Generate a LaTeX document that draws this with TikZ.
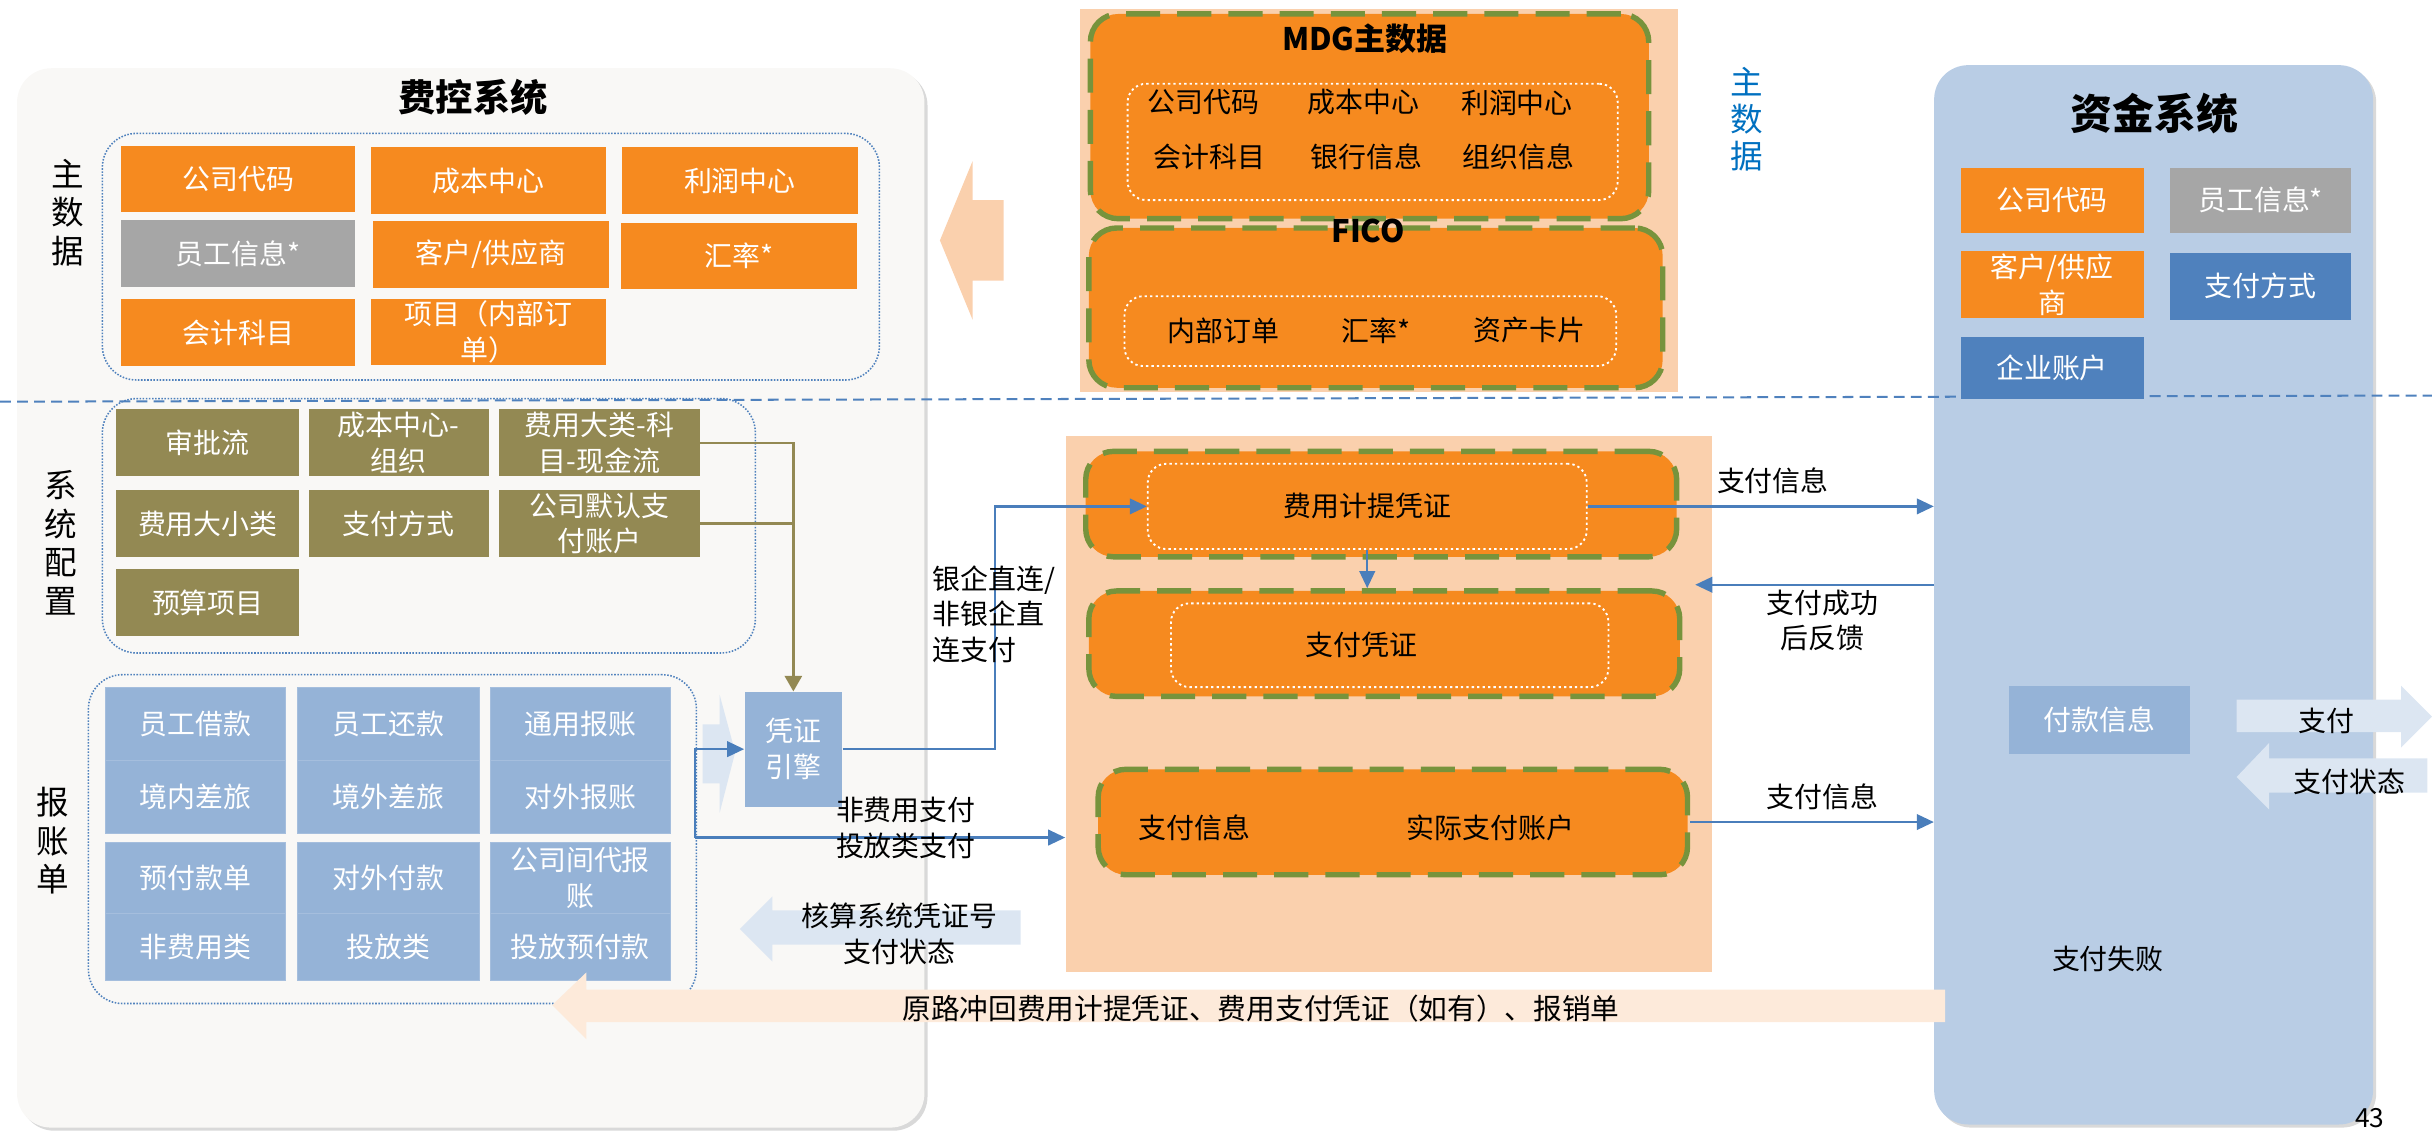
\documentclass[tikz,border=0pt]{standalone}
\usepackage{fontspec}
\setmainfont{Noto Sans CJK SC}
\usetikzlibrary{arrows.meta,shadows}
\definecolor{chengse}{HTML}{F68A1F}
\definecolor{huise}{HTML}{A6A6A6}
\definecolor{ganlan}{HTML}{938953}
\definecolor{qianlan}{HTML}{95B3D7}
\definecolor{shenlan}{HTML}{4F81BD}
\definecolor{zjlan}{HTML}{B9CDE5}
\definecolor{rouse}{HTML}{FAD0AD}
\definecolor{lvse}{HTML}{77933C}
\definecolor{danlan}{HTML}{DCE6F2}
\definecolor{danrou}{HTML}{FDEADA}
\definecolor{xianlan}{HTML}{4A7EBB}
\definecolor{dise}{HTML}{F9F8F6}
\definecolor{zilan}{HTML}{0070C0}

\begin{document}
\begin{tikzpicture}[
        x=1pt,y=-1pt,
        font=\fontsize{18}{23}\selectfont,
        wh/.style 2 args={minimum width=#1pt,minimum height=#2pt},
        cell/.style={inner sep=0pt,align=center,text=white},
        ob/.style={cell,fill=chengse},
        gb/.style={cell,fill=huise},
        olv/.style={cell,fill=ganlan},
        lbc/.style={cell,fill=qianlan,draw=qianlan!85!white,line width=0.4pt},
        db/.style={cell,fill=shenlan},
        panel/.style={inner sep=0pt,rounded corners=22pt,
          drop shadow={shadow xshift=2pt,shadow yshift=-2pt,opacity=0.3}},
        grp/.style={inner sep=0pt,draw=shenlan,densely dotted,line width=1pt,rounded corners=22pt},
        pzbox/.style={inner sep=0pt,fill=chengse,draw=lvse,line width=3.5pt,
          dash pattern=on 22pt off 11pt,rounded corners=18pt},
        inbox/.style={inner sep=0pt,draw=white,line width=1.2pt,
          dash pattern=on 1.5pt off 2pt,rounded corners=12pt},
        vlbl/.style={align=center,font=\fontsize{21}{25}\selectfont},
        title/.style={font=\bfseries\fontsize{#1}{#1}\selectfont},
        barrow/.style={draw=xianlan,line width=1.5pt,-{Triangle[length=11pt,width=10pt]}},
        oline/.style={draw=ganlan,line width=1.6pt}
      ]
      \useasboundingbox (0,0) rectangle (1568,730);

      % panels
      \node[panel,fill=dise,wh={585}{683}] (fkxt) at (303.5,385.5) {};
      \node[panel,fill=zjlan,wh={283}{683}] (zjxt) at (1388.5,383.5) {};
      \node[inner sep=0pt,fill=rouse,wh={386}{247}] (mdgbg) at (889,129.5) {};
      \node[inner sep=0pt,fill=rouse,wh={417}{346}] (fibg) at (895.5,454) {};

      % fee control system
      \node[title=24] (fktitle) at (305,62.5) {费控系统};
      \node[vlbl] (lmd) at (44,137) {主\\数\\据};
      \node[vlbl] (lcfg) at (39,350) {系\\统\\配\\置};
      \node[vlbl] (lbz) at (34,542) {报\\账\\单};
      \node[grp,wh={501}{159}] (gmd) at (316.5,165.5) {};
      \node[grp,wh={421}{164}] (gcfg) at (276.5,339) {};
      \node[grp,wh={392}{212}] (gbz) at (253,541) {};

      \node[ob,wh={151}{43}] (md1) at (153.5,115.5) {公司代码};
      \node[ob,wh={152}{43}] (md2) at (315,116.5) {成本中心};
      \node[ob,wh={152}{43}] (md3) at (477,116.5) {利润中心};
      \node[gb,wh={151}{43}] (md4) at (153.5,163.5) {员工信息*};
      \node[ob,wh={152}{43}] (md5) at (316.5,164) {客户/供应商};
      \node[ob,wh={152}{43}] (md6) at (476.5,165) {汇率*};
      \node[ob,wh={151}{43}] (md7) at (153.5,214.5) {会计科目};
      \node[ob,wh={152}{43}] (md8) at (315,214) {项目（内部订\\单）};

      \node[olv,wh={118}{43}] (cfg1) at (134,285.5) {审批流};
      \node[olv,wh={116}{43}] (cfg2) at (257,285.5) {成本中心-\\组织};
      \node[olv,wh={129}{43}] (cfg3) at (386.5,285.5) {费用大类-科\\目-现金流};
      \node[olv,wh={118}{43}] (cfg4) at (134,337.5) {费用大小类};
      \node[olv,wh={116}{43}] (cfg5) at (257,337.5) {支付方式};
      \node[olv,wh={129}{43}] (cfg6) at (386.5,337.5) {公司默认支\\付账户};
      \node[olv,wh={118}{43}] (cfg7) at (134,388.5) {预算项目};

      \node[lbc,wh={116}{47}] (bz1) at (126,466.5) {员工借款};
      \node[lbc,wh={116}{47}] (bz2) at (126,513.5) {境内差旅};
      \node[lbc,wh={116}{46}] (bz3) at (126,566) {预付款单};
      \node[lbc,wh={116}{43}] (bz4) at (126,610.5) {非费用类};
      \node[lbc,wh={117}{47}] (bz5) at (250.5,466.5) {员工还款};
      \node[lbc,wh={117}{47}] (bz6) at (250.5,513.5) {境外差旅};
      \node[lbc,wh={117}{46}] (bz7) at (250.5,566) {对外付款};
      \node[lbc,wh={117}{43}] (bz8) at (250.5,610.5) {投放类};
      \node[lbc,wh={116}{47}] (bz9) at (374,466.5) {通用报账};
      \node[lbc,wh={116}{47}] (bz10) at (374,513.5) {对外报账};
      \node[lbc,wh={116}{46}] (bz11) at (374,566) {公司间代报\\账};
      \node[lbc,wh={116}{43}] (bz12) at (374,610.5) {投放预付款};

      \node[cell,fill=qianlan,wh={63}{74}] (pzyq) at (511.5,483) {凭证\\引擎};

      % MDG / FICO
      \node[pzbox,wh={360}{132}] (mdg) at (883,75) {};
      \node[inbox,wh={316}{75}] (mdgin) at (885,91.5) {};
      \node[title=20] (mdgt) at (880,25) {MDG主数据};
      \node (mdg1) at (776,66) {公司代码};
      \node (mdg2) at (879,66) {成本中心};
      \node (mdg3) at (978,66) {利润中心};
      \node (mdg4) at (780,101) {会计科目};
      \node (mdg5) at (881,101) {银行信息};
      \node (mdg6) at (979,101) {组织信息};
      \node[pzbox,wh={370}{103}] (fico) at (887,198.5) {};
      \node[inbox,wh={317}{45}] (ficoin) at (883.5,213.5) {};
      \node[title=20] (ficot) at (882,149) {FICO};
      \node (fico1) at (789,213) {内部订单};
      \node (fico2) at (887,213) {汇率*};
      \node (fico3) at (986,213) {资产卡片};
      \node[vlbl,text=zilan,font=\fontsize{21}{24}\selectfont] (rmd) at (1126,77) {主\\数\\据};

      % vouchers
      \node[pzbox,wh={381}{68}] (jt) at (890.5,325) {};
      \node[inbox,wh={283}{55}] (jtin) at (881.5,326.5) {费用计提凭证};
      \node[pzbox,wh={381}{68}] (zfpz) at (892.5,415) {};
      \node[inbox,wh={282}{54}] (zfin) at (896,416) {};
      \node (zfpzt) at (878,416) {支付凭证};
      \node[pzbox,wh={380}{68}] (sjzf) at (898,530) {};
      \node (sjzf1) at (770,534) {支付信息};
      \node (sjzf2) at (961,534) {实际支付账户};

      % treasury system
      \node[title=27] (zjtitle) at (1389,73) {资金系统};
      \node[ob,wh={118}{42}] (zj1) at (1323,129) {公司代码};
      \node[gb,wh={117}{42}] (zj2) at (1457.5,129) {员工信息*};
      \node[ob,wh={118}{43}] (zj3) at (1323,183.5) {客户/供应\\商};
      \node[db,wh={117}{43}] (zj4) at (1457.5,184.5) {支付方式};
      \node[db,wh={118}{40}] (zj5) at (1323,237) {企业账户};
      \node[cell,fill=qianlan,wh={117}{44}] (fkxx) at (1353.5,464) {付款信息};
      \node (zfsb) at (1359,618) {支付失败};

      % block arrows
      \fill[rouse] (606,155) -- (627,104) -- (627,129) -- (647,129) -- (647,181)
        -- (627,181) -- (627,206) -- cycle;
      \fill[danlan] (453,467) -- (464,467) -- (464,448) -- (474,485) -- (464,524)
        -- (464,505) -- (453,505) -- cycle;
      \fill[danlan] (477,599) -- (498,578) -- (498,587) -- (658,587) -- (658,609)
        -- (498,609) -- (498,620) -- cycle;
      \fill[danrou] (356,648) -- (378,627) -- (378,638) -- (1254,638) -- (1254,659)
        -- (378,659) -- (378,670) -- cycle;
      \fill[danlan] (1442,451) -- (1548,451) -- (1548,442) -- (1568,462) -- (1548,482)
        -- (1548,472) -- (1442,472) -- cycle;
      \fill[danlan] (1442,501) -- (1463,479) -- (1463,489) -- (1565,489) -- (1565,511)
        -- (1463,511) -- (1463,522) -- cycle;
      \node[align=center] (hsxt) at (580,602) {核算系统凭证号\\支付状态};
      \node[font=\fontsize{18.5}{22}\selectfont] (ylch) at (813,650)
        {原路冲回费用计提凭证、费用支付凭证（如有）、报销单};
      \node (zf) at (1500,465) {支付};
      \node (zfzt) at (1515,504) {支付状态};

      % separator
      \draw[shenlan,line width=1.3pt,dash pattern=on 7pt off 4pt] (0,259) -- (1568,255);

      % connectors
      \draw[oline,-{Triangle[length=10pt,width=11pt]}] (cfg3.east) -| (pzyq.north);
      \draw[oline] (cfg6.east) -- (cfg6.east -| pzyq.north);
      \coordinate (bzup) at (448,483);
      \coordinate (bzdn) at (448,540);
      \draw[barrow] (bzdn) -- (bzup) -- (pzyq.west);
      \draw[barrow] (bzdn) -- (bzdn -| fibg.west);
      \draw[barrow] (pzyq.east) -- ++(98.5,0) |- (jtin.west);
      \draw[barrow] (jtin.south) -- (jtin.south |- zfpz.north);
      \draw[barrow] (jtin.east) -- (jtin.east -| zjxt.west);
      \coordinate (fkend) at (1093,377);
      \draw[barrow] (zjxt.west |- fkend) -- (fkend);
      \draw[barrow] (sjzf.east) -- (sjzf.east -| zjxt.west);

      % labels
      \node[align=left] (yqzl) at (641,396) {银企直连/\\非银企直\\连支付};
      \node[align=center] (ffy) at (584,534) {非费用支付\\投放类支付};
      \node (zfxx1) at (1143,310) {支付信息};
      \node[align=center] (zfcg) at (1175,400) {支付成功\\后反馈};
      \node (zfxx2) at (1175,514) {支付信息};
      \node[font=\fontsize{17}{17}\selectfont] (yema) at (1528,721) {43};
    \end{tikzpicture}
\end{document}
